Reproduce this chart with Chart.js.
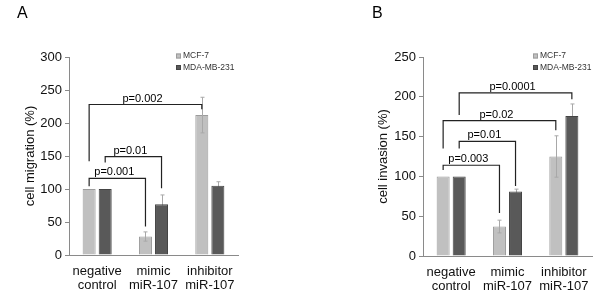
<!DOCTYPE html>
<html lang="en">
<head>
  <meta charset="UTF-8">
  <title>Cell migration and invasion</title>
  <style>
    * { margin: 0; padding: 0; box-sizing: border-box; }
    body { background: #fff; width: 600px; height: 297px; overflow: hidden; }
    .row { display: flex; }
    canvas { display: block; }
  </style>
  <script src="https://cdn.jsdelivr.net/npm/chart.js"></script>
</head>
<body>
  <div class="row">
    <canvas id="chartA" width="300" height="297"></canvas>
    <canvas id="chartB" width="300" height="297"></canvas>
  </div>

  <script>
    const categories = [["negative", "control"], ["mimic", "miR-107"], ["inhibitor", "miR-107"]];
    const seriesNames = ["MCF-7", "MDA-MB-231"];

    // panel A - migration
    const migrationMCF7 = [100, 28, 212];
    const migrationMCF7Err = [0, 7, 27];
    const migrationMDA = [100, 77, 105];
    const migrationMDAErr = [0, 14, 6];
    const migrationTicks = [0, 50, 100, 150, 200, 250, 300];

    // panel B - invasion
    const invasionMCF7 = [100, 37, 125];
    const invasionMCF7Err = [0, 8, 26];
    const invasionMDA = [100, 81, 176];
    const invasionMDAErr = [0, 3, 15];
    const invasionTicks = [0, 50, 100, 150, 200, 250];

    // significance brackets: [category, series] at each end, heights in % units
    const migrationBrackets = [
      { label: "p=0.002", from: [0, 0], to: [2, 0], top: 228, leftEnd: 142, rightEnd: 221 },
      { label: "p=0.01",  from: [0, 1], to: [1, 1], top: 149, leftEnd: 140, rightEnd: 101 },
      { label: "p=0.001", from: [0, 0], to: [1, 0], top: 116, leftEnd: 104, rightEnd: 43 }
    ];
    const invasionBrackets = [
      { label: "p=0.0001", from: [0, 1], to: [2, 1], top: 205, leftEnd: 177, rightEnd: 197 },
      { label: "p=0.02",   from: [0, 0], to: [2, 0], top: 170, leftEnd: 135, rightEnd: 158 },
      { label: "p=0.01",   from: [0, 1], to: [1, 1], top: 144, leftEnd: 135, rightEnd: 88 },
      { label: "p=0.003",  from: [0, 0], to: [1, 0], top: 114, leftEnd: 108, rightEnd: 54 }
    ];

    const FONT = "Arial, 'Liberation Sans', sans-serif";
    const LIGHT = "#c0c0c0", DARK = "#595959";

    function drawErrors(chart, dsIndex) {
      const ctx = chart.ctx;
      const y = chart.scales.y;
      const ds = chart.data.datasets[dsIndex];
      const meta = chart.getDatasetMeta(dsIndex);
      ctx.save();
      ctx.strokeStyle = "#a8a8a8";
      ctx.lineWidth = 1;
      meta.data.forEach((bar, i) => {
        const e = ds.errors[i];
        if (!e) return;
        const x = Math.round(bar.x) + 0.5;
        const t = y.getPixelForValue(ds.data[i] + e);
        const b = y.getPixelForValue(ds.data[i] - e);
        ctx.beginPath();
        ctx.moveTo(x, t); ctx.lineTo(x, b);
        ctx.moveTo(x - 2, t); ctx.lineTo(x + 2, t);
        ctx.moveTo(x - 2, b); ctx.lineTo(x + 2, b);
        ctx.stroke();
      });
      ctx.restore();
    }

    const panelPlugin = {
      id: "panelExtras",
      beforeDatasetsDraw(chart) {
        drawErrors(chart, 1);
      },
      afterDatasetsDraw(chart, args, opts) {
        drawErrors(chart, 0);
        const ctx = chart.ctx;
        const y = chart.scales.y;

        // brackets
        ctx.save();
        ctx.strokeStyle = "#222";
        ctx.lineWidth = 1.2;
        ctx.fillStyle = "#000";
        ctx.font = "11px " + FONT;
        ctx.textAlign = "center";
        ctx.textBaseline = "alphabetic";
        opts.brackets.forEach(br => {
          const x1 = chart.getDatasetMeta(br.from[1]).data[br.from[0]].x;
          const x2 = chart.getDatasetMeta(br.to[1]).data[br.to[0]].x;
          const yt = y.getPixelForValue(br.top);
          ctx.beginPath();
          ctx.moveTo(x1, y.getPixelForValue(br.leftEnd));
          ctx.lineTo(x1, yt);
          ctx.lineTo(x2, yt);
          ctx.lineTo(x2, y.getPixelForValue(br.rightEnd));
          ctx.stroke();
          ctx.fillText(br.label, (x1 + x2) / 2 - 3, yt - 3);
        });

        // legend
        ctx.font = "8.5px " + FONT;
        ctx.textAlign = "left";
        ctx.textBaseline = "middle";
        chart.data.datasets.forEach((ds, i) => {
          const ly = opts.legendY + i * 11.5;
          ctx.fillStyle = ds.backgroundColor;
          ctx.strokeStyle = ds.borderColor;
          ctx.lineWidth = 1;
          ctx.fillRect(opts.legendX, ly - 2.5, 5, 5);
          ctx.strokeRect(opts.legendX + 0.5, ly - 2, 4, 4);
          ctx.fillStyle = "#333";
          ctx.fillText(ds.label, opts.legendX + 7, ly);
        });

        // panel letter
        ctx.font = "16px " + FONT;
        ctx.fillStyle = "#000";
        ctx.fillText(opts.letter, opts.letterX, 14);
        ctx.restore();
      }
    };

    function makePanel(id, opts) {
      const ctx = document.getElementById(id).getContext("2d");
      return new Chart(ctx, {
        type: "bar",
        data: {
          labels: categories,
          datasets: [
            { label: seriesNames[0], data: opts.mcf, errors: opts.mcfErr,
              backgroundColor: LIGHT, borderColor: "#9c9c9c", borderWidth: 1 },
            { label: seriesNames[1], data: opts.mda, errors: opts.mdaErr,
              backgroundColor: DARK, borderColor: "#444", borderWidth: 1 }
          ]
        },
        options: {
          responsive: false,
          animation: false,
          devicePixelRatio: 1,
          categoryPercentage: 0.57,
          barPercentage: 0.81,
          layout: { padding: { left: opts.padLeft, right: opts.padRight, top: 57, bottom: 0 } },
          plugins: {
            legend: { display: false },
            tooltip: { enabled: false },
            panelExtras: {
              brackets: opts.brackets, legendX: opts.legendX, legendY: 56,
              letter: opts.letter, letterX: opts.letterX
            }
          },
          scales: {
            x: {
              grid: { display: false, drawTicks: false },
              border: { display: true, color: "#8a8a8a", width: 1 },
              ticks: { color: "#111", font: { size: 13, family: FONT, lineHeight: 1.12 },
                       padding: 9, maxRotation: 0, autoSkip: false },
              afterFit: s => { s.height = opts.xHeight; }
            },
            y: {
              min: 0,
              max: opts.ticks[opts.ticks.length - 1],
              afterBuildTicks: s => { s.ticks = opts.ticks.map(v => ({ value: v })); },
              grid: { drawOnChartArea: false, drawTicks: true, tickLength: 4, color: "#8a8a8a" },
              border: { display: true, color: "#8a8a8a", width: 1 },
              ticks: { color: "#111", font: { size: 13, family: FONT }, padding: 3 },
              title: { display: true, text: opts.yTitle, color: "#111",
                       font: { size: 13, family: FONT }, padding: 0 },
              afterFit: s => { s.width = opts.yWidth; }
            }
          }
        },
        plugins: [panelPlugin]
      });
    }

    makePanel("chartA", {
      mcf: migrationMCF7, mcfErr: migrationMCF7Err,
      mda: migrationMDA, mdaErr: migrationMDAErr,
      ticks: migrationTicks, brackets: migrationBrackets,
      yTitle: "cell migration (%)",
      padLeft: 23, yWidth: 46, padRight: 62, xHeight: 42,
      legendX: 176, letter: "A", letterX: 17
    });

    makePanel("chartB", {
      mcf: invasionMCF7, mcfErr: invasionMCF7Err,
      mda: invasionMDA, mdaErr: invasionMDAErr,
      ticks: invasionTicks, brackets: invasionBrackets,
      yTitle: "cell invasion (%)",
      padLeft: 76, yWidth: 47, padRight: 8, xHeight: 41,
      legendX: 233, letter: "B", letterX: 72
    });
  </script>
</body>
</html>
